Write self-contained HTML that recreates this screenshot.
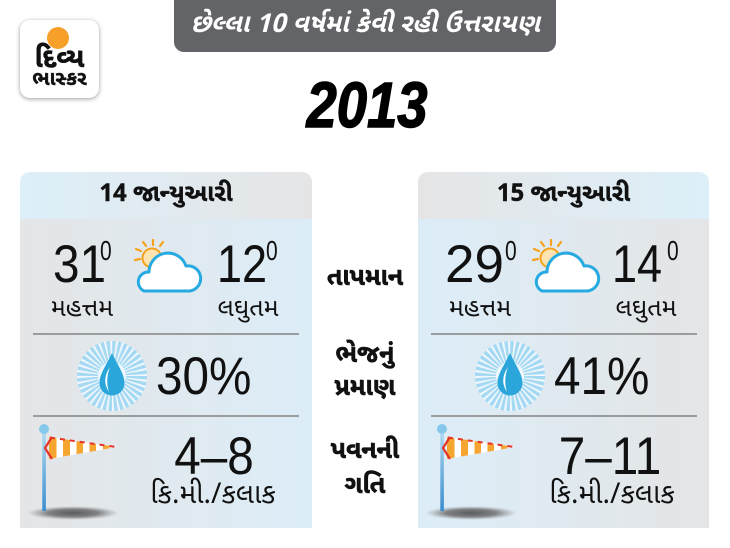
<!DOCTYPE html>
<html><head><meta charset="utf-8">
<style>
html,body{margin:0;padding:0;}
body{width:730px;height:548px;overflow:hidden;background:#fff;position:relative;font-family:"Liberation Sans","Noto Sans Gujarati","Lohit Gujarati",sans-serif;color:#111;}
.a{position:absolute;white-space:nowrap;}
.g{font-family:"Noto Sans Gujarati","Lohit Gujarati","Shruti","Liberation Sans",sans-serif;}
.c{text-align:center;}
.big{font-size:53px;line-height:53px;font-weight:400;transform:scaleX(0.85);transform-origin:left top;}
.bigc{font-size:53px;line-height:53px;font-weight:400;transform:scaleX(0.9);transform-origin:center top;text-align:center;}
.sup{font-size:28px;line-height:28px;transform:scaleX(0.75);transform-origin:left top;}
.lbl{font-size:25px;line-height:26px;}
.mid{font-size:25px;line-height:28px;font-weight:bold;width:140px;left:295px;text-align:center;-webkit-text-stroke:0.6px #111;}
.panel{position:absolute;top:172px;height:356px;border-radius:10px 10px 0 0;overflow:hidden;}
.hd{position:absolute;left:0;top:0;right:0;height:47px;font-weight:bold;font-size:24px;line-height:47px;text-align:center;-webkit-text-stroke:0.4px #111;}
.bd{position:absolute;left:0;top:47px;right:0;bottom:0;}
.sep{position:absolute;height:2px;background:#9b9c9e;}
</style></head>
<body>
<!-- logo -->
<div class="a" style="left:20px;top:20px;width:79px;height:78px;border-radius:10px;background:#fff;box-shadow:0 1px 4px rgba(0,0,0,.4);"></div>
<div class="a" style="left:47px;top:27px;width:22px;height:22px;border-radius:50%;background:#f6a02a;"></div>
<div class="a g c" style="left:15px;top:49px;width:89px;font-size:27px;line-height:26px;font-weight:bold;-webkit-text-stroke:0.6px #111;">દિવ્ય</div>
<div class="a g c" style="left:15px;top:71px;width:89px;font-size:20px;line-height:20px;font-weight:bold;-webkit-text-stroke:0.4px #111;">ભાસ્કર</div>

<!-- banner -->
<div class="a g c" style="left:174px;top:0;width:382px;height:52px;background:#636467;border-radius:0 0 10px 10px;color:#fff;font-size:26px;line-height:52px;font-weight:bold;font-style:italic;">છેલ્લા 10 વર્ષમાં કેવી રહી ઉત્તરાયણ</div>

<!-- year -->
<div class="a c" style="left:267px;top:73px;width:200px;font-size:64px;line-height:64px;font-weight:bold;font-style:italic;transform:scaleX(0.85);-webkit-text-stroke:1.5px #000;color:#000;">2013</div>

<!-- panels -->
<div class="panel" style="left:20px;width:292px;">
  <div class="hd g" style="background:linear-gradient(to right,#ddeff9,#e5e5e6);">14 જાન્યુઆરી</div>
  <div class="bd" style="background:linear-gradient(to right,#e4e5e6,#dcedf8);"></div>
</div>
<div class="panel" style="left:418px;width:291px;">
  <div class="hd g" style="background:linear-gradient(to right,#e5e5e6,#ddeff9);">15 જાન્યુઆરી</div>
  <div class="bd" style="background:linear-gradient(to right,#dcedf8,#e4e5e6);"></div>
</div>

<div class="sep" style="left:33px;top:333px;width:266px;"></div>
<div class="sep" style="left:33px;top:415px;width:266px;"></div>
<div class="sep" style="left:431px;top:333px;width:266px;"></div>
<div class="sep" style="left:431px;top:415px;width:266px;"></div>

<!-- graphics -->
<svg class="a" style="left:0;top:0;" width="730" height="548" viewBox="0 0 730 548">
  <defs>
    <linearGradient id="pole" x1="0" y1="0" x2="0" y2="1">
      <stop offset="0" stop-color="#b2dcf2"/><stop offset="1" stop-color="#3a8dcf"/>
    </linearGradient>
    <linearGradient id="str" gradientUnits="userSpaceOnUse" x1="50" y1="0" x2="116" y2="0">
      <stop offset="0" stop-color="#f7a531"/><stop offset="0.1" stop-color="#f7a531"/>
      <stop offset="0.1" stop-color="#fff"/><stop offset="0.2" stop-color="#fff"/>
      <stop offset="0.2" stop-color="#f7a531"/><stop offset="0.3" stop-color="#f7a531"/>
      <stop offset="0.3" stop-color="#fff"/><stop offset="0.4" stop-color="#fff"/>
      <stop offset="0.4" stop-color="#f7a531"/><stop offset="0.5" stop-color="#f7a531"/>
      <stop offset="0.5" stop-color="#fff"/><stop offset="0.6" stop-color="#fff"/>
      <stop offset="0.6" stop-color="#f7a531"/><stop offset="0.7" stop-color="#f7a531"/>
      <stop offset="0.7" stop-color="#fff"/><stop offset="0.8" stop-color="#fff"/>
      <stop offset="0.8" stop-color="#f7a531"/><stop offset="0.9" stop-color="#f7a531"/>
      <stop offset="0.9" stop-color="#fff"/><stop offset="1" stop-color="#fff"/>
    </linearGradient>
    <radialGradient id="sh" cx="0.5" cy="0.5" r="0.5">
      <stop offset="0" stop-color="#5a5b5d"/><stop offset="0.55" stop-color="#808183"/><stop offset="1" stop-color="#9a9b9d" stop-opacity="0"/>
    </radialGradient>
    <g id="set">
      <!-- sun + cloud -->
      <g stroke="#f7a21b" stroke-width="2.2" stroke-linecap="round">
        <line x1="153" y1="245" x2="153" y2="240"/>
        <line x1="160" y1="246" x2="163" y2="242"/>
        <line x1="146" y1="246" x2="143" y2="242"/>
        <line x1="141" y1="251" x2="136" y2="249"/>
        <line x1="140" y1="259" x2="135" y2="260"/>
      </g>
      <circle cx="152" cy="258" r="9.5" fill="#fde3b0" stroke="#f7a21b" stroke-width="2"/>
      <path d="M144 291 A10 10 0 0 1 149 272 A19 19 0 0 1 186 266 A12.5 12.5 0 0 1 190 291 Z" fill="#fff" stroke="#27aae1" stroke-width="3" stroke-linejoin="round"/>
      <!-- humidity burst -->
      <circle cx="112" cy="376" r="35" fill="#eef7fc"/>
      <circle cx="112" cy="376" r="24.5" fill="none" stroke="#a5d8f3" stroke-width="21" stroke-dasharray="2.6 1.675"/>
      <path d="M112 353 C106 366 99.5 374 99.5 383 A12.5 12.5 0 0 0 124.5 383 C124.5 374 118 366 112 353 Z" fill="#2aa6da"/>
      <path d="M110 367 Q101 380 109 392 Q105 380 110 367 Z" fill="#fff"/>
      <!-- wind flag -->
      <ellipse cx="73" cy="513" rx="46" ry="7" fill="url(#sh)"/>
      <rect x="42.3" y="430" width="3.6" height="81" fill="url(#pole)"/>
      <circle cx="44" cy="429" r="5" fill="#86c8ec"/>
      <polygon points="49,437 117,447 49,459" fill="url(#str)"/>
      <line x1="50" y1="437.5" x2="116" y2="447" stroke="#e5352b" stroke-width="2" stroke-dasharray="5 5"/>
      <polyline points="52,437 45,448 52,459" fill="none" stroke="#e5352b" stroke-width="2.2"/>
    </g>
  </defs>
  <use href="#set"/>
  <use href="#set" transform="translate(398,0)"/>
</svg>

<!-- left panel text -->
<div class="a big" style="left:53px;top:238px;transform:scaleX(0.9);">31</div>
<div class="a sup" style="left:100px;top:237px;">0</div>
<div class="a big" style="left:217px;top:238px;">12</div>
<div class="a sup" style="left:266px;top:237px;">0</div>
<div class="a lbl g c" style="left:22px;top:298px;width:120px;">મહત્તમ</div>
<div class="a lbl g c" style="left:188px;top:298px;width:120px;">લઘુતમ</div>
<div class="a big" style="left:156px;top:350px;transform:scaleX(0.9);">30%</div>
<div class="a bigc" style="left:134px;top:430px;width:160px;">4–8</div>
<div class="a g c" style="left:123px;top:483px;width:180px;font-size:28px;line-height:28px;">કિ.મી./કલાક</div>

<!-- right panel text -->
<div class="a big" style="left:445px;top:238px;transform:none;">29</div>
<div class="a sup" style="left:505px;top:237px;">0</div>
<div class="a big" style="left:612px;top:238px;">14</div>
<div class="a sup" style="left:667px;top:237px;">0</div>
<div class="a lbl g c" style="left:420px;top:298px;width:120px;">મહત્તમ</div>
<div class="a lbl g c" style="left:586px;top:298px;width:120px;">લઘુતમ</div>
<div class="a big" style="left:554px;top:350px;transform:scaleX(0.9);">41%</div>
<div class="a bigc" style="left:530px;top:430px;width:160px;">7–11</div>
<div class="a g c" style="left:522px;top:483px;width:180px;font-size:28px;line-height:28px;">કિ.મી./કલાક</div>

<!-- middle labels -->
<div class="a mid g" style="top:266px;">તાપમાન</div>
<div class="a mid g" style="top:343px;">ભેજનું</div>
<div class="a mid g" style="top:376px;">પ્રમાણ</div>
<div class="a mid g" style="top:439px;">પવનની</div>
<div class="a mid g" style="top:474px;">ગતિ</div>
</body></html>
